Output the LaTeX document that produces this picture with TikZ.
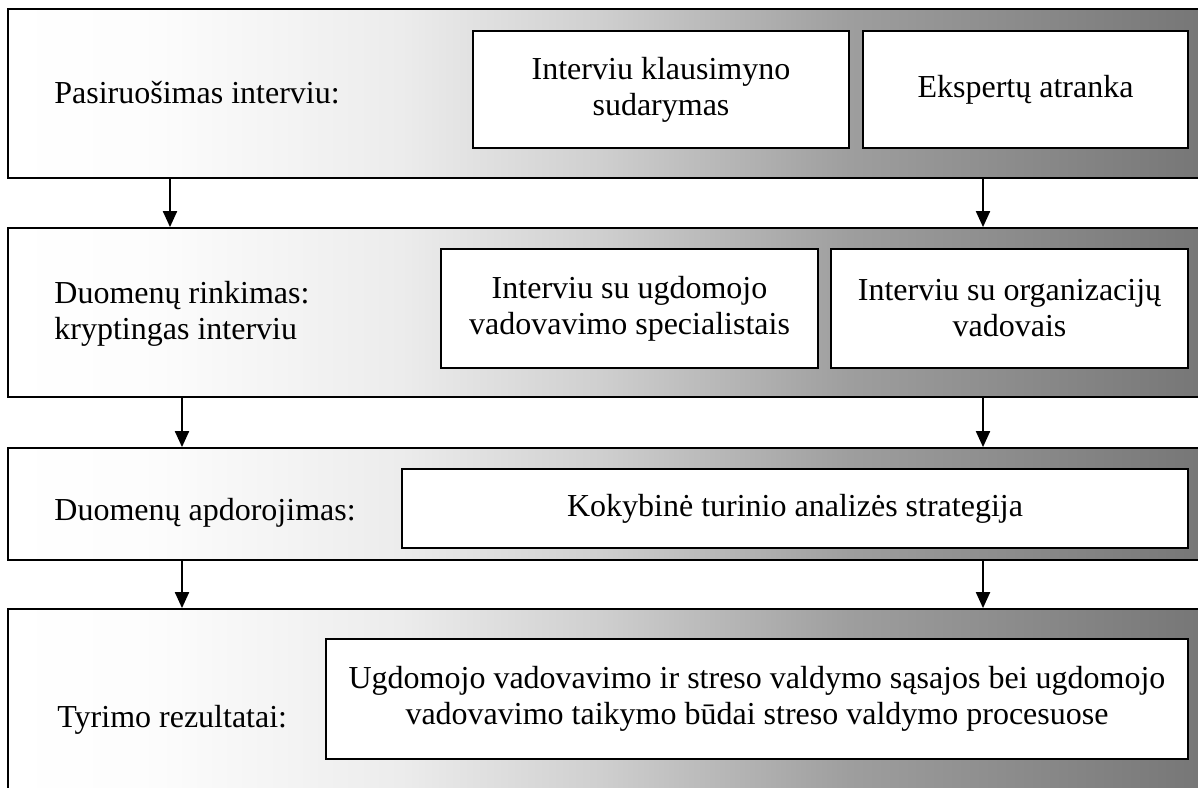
\documentclass[tikz,border=0pt]{standalone}
\usepackage{fontspec}
\setmainfont{Liberation Serif}
\usetikzlibrary{arrows.meta}
\usetikzlibrary{positioning}
\usetikzlibrary{calc}

\definecolor{bandgray}{RGB}{118,118,118}
\definecolor{bandlight}{RGB}{236,236,236}
\definecolor{bandmid}{RGB}{207,207,207}
\definecolor{banddark}{RGB}{158,158,158}
\pgfdeclarehorizontalshading{bandfade}{100bp}{color(0bp)=(white); color(25bp)=(white); color(31bp)=(white!99!black); color(41.4bp)=(bandlight); color(49.7bp)=(bandmid); color(60.1bp)=(banddark); color(75bp)=(bandgray); color(100bp)=(bandgray)}

\begin{document}
\begin{tikzpicture}[x=0.5pt, y=-0.5pt, font=\fontsize{16}{18}\selectfont,
  band/.style={rectangle, draw=black, line width=0.9pt, shading=bandfade, minimum width=599pt, inner sep=0pt},
  box/.style={rectangle, draw=black, line width=0.9pt, fill=white, align=center, inner sep=0pt},
  lbl/.style={align=left, inner sep=0pt},
  flow/.style={line width=1pt, -{Triangle[width=7pt, length=8pt]}}]

      % Page frame (last band runs past the edge)
      \useasboundingbox (0,0) rectangle (1198,787);

      % Bands
      \node[band, minimum height=84.5pt] (b1) at (607, 93.5) {};
      \node[band, minimum height=84.5pt] (b2) at (607, 312.5) {};
      \node[band, minimum height=56pt] (b3) at (607, 504) {};
      \node[band, minimum height=95.5pt] (b4) at (607, 704.5) {};

      % Band labels
      \node[lbl, anchor=base west] (l1) at (54, 103) {Pasiruošimas interviu:};
      \node[lbl, anchor=west] (l2) at (54, 314) {Duomenų rinkimas:\\kryptingas interviu};
      \node[lbl, anchor=base west] (l3) at (54, 520) {Duomenų apdorojimas:};
      \node[lbl, anchor=base west] (l4) at (57, 727) {Tyrimo rezultatai:};

      % Boxes inside the bands
      \node[box, minimum width=188pt, minimum height=58.5pt] (k1) at (661, 89.5) {Interviu klausimyno\\sudarymas};
      \node[box, minimum width=162.5pt, minimum height=58.5pt] (k2) at (1025.5, 89.5) {Ekspertų atranka};
      \node[box, minimum width=188.5pt, minimum height=59.5pt] (r1) at (629.5, 308.5) {Interviu su ugdomojo\\vadovavimo specialistais};
      \node[box, minimum width=178.5pt, minimum height=59.5pt] (r2) at (1009.5, 308.5) {Interviu su organizacijų\\vadovais};
      \node[box, minimum width=393pt, minimum height=39.5pt] (a1) at (795, 508.5) {Kokybinė turinio analizės strategija};
      \node[box, minimum width=431pt, minimum height=60pt] (t1) at (757, 699) {Ugdomojo vadovavimo ir streso valdymo sąsajos bei ugdomojo\\vadovavimo taikymo būdai streso valdymo procesuose};

      % Columns of the arrows
      \coordinate (xa) at (170, 0);
      \coordinate (xb) at (182, 0);
      \coordinate (xr) at (983, 0);

      % Arrows between the bands
      \draw[flow] (b1.south -| xa) -- (b2.north -| xa);
      \draw[flow] (b1.south -| xr) -- (b2.north -| xr);
      \foreach \u/\v in {b2/b3, b3/b4} {
        \draw[flow] (\u.south -| xb) -- (\v.north -| xb);
        \draw[flow] (\u.south -| xr) -- (\v.north -| xr);
      }

    \end{tikzpicture}
\end{document}
